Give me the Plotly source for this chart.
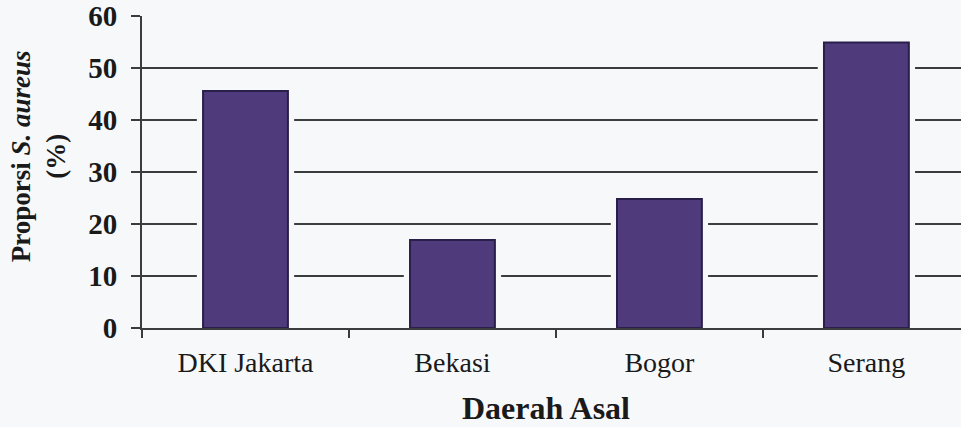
import plotly.graph_objects as go

categories = ["DKI Jakarta", "Bekasi", "Bogor", "Serang"]
proporsi = [45.6, 16.9, 24.8, 54.9]
y_ticks = [0, 10, 20, 30, 40, 50, 60]

BG = "#f7f8fa"
GRID = "#3c3c3c"
FONT = "Liberation Serif, Times New Roman, serif"

fig = go.Figure()
# halo behind bars (gridlines stop short of the bars)
fig.add_trace(go.Bar(
    x=categories, y=proporsi, width=0.47,
    marker=dict(color=BG, line=dict(width=0)),
    hoverinfo="skip", showlegend=False,
))
fig.add_trace(go.Bar(
    x=categories, y=proporsi, width=0.41,
    marker=dict(color="#4f3a7c", line=dict(color="#2a1e4a", width=2)),
    showlegend=False,
))

fig.update_layout(
    width=961, height=427,
    margin=dict(l=142, r=0, t=16, b=99),
    paper_bgcolor=BG, plot_bgcolor=BG,
    barmode="overlay",
    font=dict(family=FONT, color="#1a1a1a"),
    xaxis=dict(
        range=[-0.5, 3.457],
        showgrid=False,
        showline=True, linecolor=GRID, linewidth=2,
        ticks="outside", tickson="boundaries", ticklen=8, tickwidth=1.5, tickcolor=GRID,
        tickfont=dict(family=FONT, size=28, color="#1a1a1a"),
        ticklabelstandoff=8,
        layer="above traces",
    ),
    yaxis=dict(
        range=[0, 60],
        tickvals=y_ticks,
        showgrid=True, gridcolor=GRID, gridwidth=2,
        showline=True, linecolor=GRID, linewidth=2,
        ticks="outside", ticklen=9, tickwidth=2, tickcolor=GRID,
        tickfont=dict(family=FONT, size=29, color="#1a1a1a", weight="bold"),
        ticklabelstandoff=8,
        zeroline=False,
        layer="above traces",
    ),
    annotations=[
        dict(
            text="<b>Daerah Asal</b>", xref="paper", yref="paper",
            x=0.493, y=-0.255, xanchor="center", yanchor="middle",
            showarrow=False, font=dict(family=FONT, size=32, color="#1a1a1a"),
        ),
        dict(
            text="<b>Proporsi <i>S. aureus</i><br>(%)</b>", xref="paper", yref="paper",
            x=-0.126, y=0.55, xanchor="center", yanchor="middle", textangle=-90,
            showarrow=False, font=dict(family=FONT, size=27, color="#1a1a1a"),
        ),
    ],
)

fig.write_html(
    "out.html",
    config={"displayModeBar": False},
    post_script="document.body.style.margin='0';document.body.style.background='%s';document.body.style.overflow='hidden';" % BG,
)
